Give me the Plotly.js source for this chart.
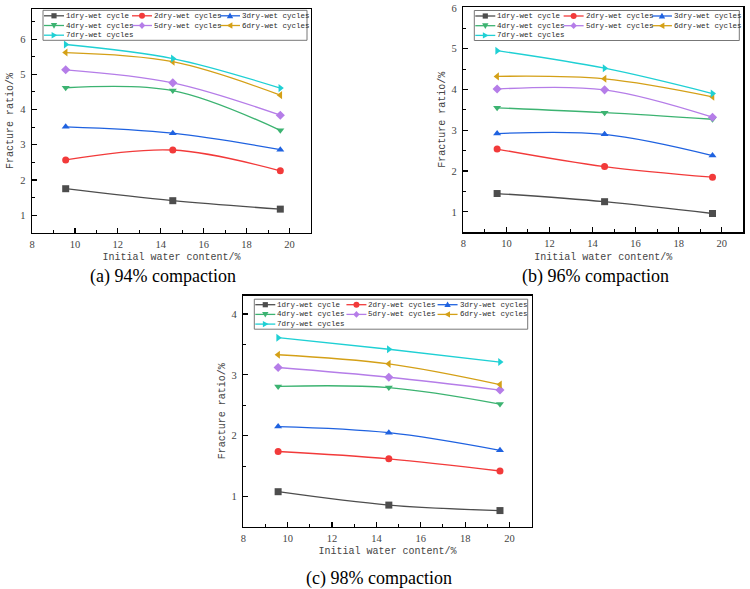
<!DOCTYPE html>
<html>
<head>
<meta charset="utf-8">
<script src="https://cdn.plot.ly/plotly-3.0.1.min.js"></script>
<style>html,body{margin:0;padding:0;background:#fff;}#chart{width:750px;height:589px;}</style>
</head>
<body>
<div id="chart"></div>
<script>
// ---------- data ----------
const waterContent = [9.57, 14.56, 19.57];
const seriesNames = ['1dry-wet cycle', '2dry-wet cycles', '3dry-wet cycles', '4dry-wet cycles',
                     '5dry-wet cycles', '6dry-wet cycles', '7dry-wet cycles'];
const ratio94 = [
  [1.75, 1.41, 1.17],
  [2.57, 2.85, 2.26],
  [3.51, 3.33, 2.86],
  [4.62, 4.54, 3.41],
  [5.13, 4.76, 3.84],
  [5.62, 5.36, 4.41],
  [5.85, 5.45, 4.61]
];
const ratio96 = [
  [1.45, 1.25, 0.96],
  [2.54, 2.11, 1.85],
  [2.92, 2.90, 2.38],
  [3.55, 3.43, 3.27],
  [4.01, 3.99, 3.32],
  [4.32, 4.26, 3.82],
  [4.95, 4.52, 3.90]
];
const ratio98 = [
  [1.08, 0.86, 0.77],
  [1.74, 1.62, 1.42],
  [2.15, 2.05, 1.76],
  [2.81, 2.79, 2.52],
  [3.12, 2.96, 2.75],
  [3.33, 3.18, 2.84],
  [3.61, 3.42, 3.21]
];
const captions = ['(a) 94% compaction', '(b) 96% compaction', '(c) 98% compaction'];
const xTitle = 'Initial water content/%';
const yTitle = 'Fracture ratio/%';

// ---------- styles ----------
const colors = ['#4d4d4d', '#f23a3a', '#1f62e0', '#3cb371', '#b57de8', '#d4a017', '#1fd0d4'];
const symbols = ['square', 'circle', 'triangle-up', 'triangle-down', 'diamond', 'triangle-left', 'triangle-right'];
const W = 750, H = 589;
// plot areas in pixels: [left, right, top, bottom]
const panels = [
  {data: ratio94, px: [32, 311, 9.3, 232.7], yr: [0.5, 6.85], ytv: [1,2,3,4,5,6], legTop: 1, cap: [163, 276.5]},
  {data: ratio96, px: [463.3, 743.3, 7, 232.3], yr: [0.5, 6.02], ytv: [1,2,3,4,5,6], legTop: 3.5, cap: [595, 276.5]},
  {data: ratio98, px: [243.3, 531.7, 295.7, 527], yr: [0.5, 4.3], ytv: [1,2,3,4], legTop: 3.5, cap: [379, 578]}
];
const tickFont = {family: 'Liberation Serif, Times New Roman, serif', size: 10.5, color: '#444'};
const monoFont = {family: 'Liberation Mono, DejaVu Sans Mono, monospace', size: 10, color: '#444'};
const legFont = {family: 'Liberation Mono, DejaVu Sans Mono, monospace', size: 7.5, color: '#2a2a2a'};

const traces = [];
const layout = {
  width: W, height: H,
  margin: {l: 0, r: 0, t: 0, b: 0},
  paper_bgcolor: '#fff', plot_bgcolor: '#fff',
  showlegend: false,
  shapes: [], annotations: []
};

function markerPath(sym, cx, cy) {
  let pts;
  switch (sym) {
    case 'square': pts = [[-2.6,-2.6],[2.6,-2.6],[2.6,2.6],[-2.6,2.6]]; break;
    case 'triangle-up': pts = [[-3.2,-2.4],[3.2,-2.4],[0,3.2]]; break;
    case 'triangle-down': pts = [[-3.2,2.4],[3.2,2.4],[0,-3.2]]; break;
    case 'diamond': pts = [[0,3.4],[3.2,0],[0,-3.4],[-3.2,0]]; break;
    case 'triangle-left': pts = [[-3.2,0],[2.4,3.2],[2.4,-3.2]]; break;
    case 'triangle-right': pts = [[3.2,0],[-2.4,3.2],[-2.4,-3.2]]; break;
  }
  return 'M' + pts.map(p => (cx + p[0]).toFixed(2) + ',' + (cy + p[1]).toFixed(2)).join('L') + 'Z';
}

panels.forEach((p, k) => {
  const sfx = k === 0 ? '' : String(k + 1);
  const xa = 'x' + sfx, ya = 'y' + sfx;
  const [L, R, T, B] = p.px;
  layout['xaxis' + sfx] = {
    domain: [L / W, R / W], anchor: ya, range: [8, 21],
    tickvals: [8, 10, 12, 14, 16, 18, 20], ticks: 'inside', ticklen: 5, tickwidth: 1.2, tickcolor: '#000',
    minor: {tickvals: [9, 11, 13, 15, 17, 19], ticks: 'inside', ticklen: 3, tickwidth: 1, tickcolor: '#000'},
    showline: true, linecolor: '#000', linewidth: 1.4, mirror: true,
    showgrid: false, zeroline: false, tickfont: tickFont, ticklabelstandoff: 1,
    title: {text: xTitle, font: monoFont, standoff: 4}
  };
  const minorY = [];
  for (let v = p.yr[0]; v <= p.yr[1]; v += 0.5) if (!p.ytv.includes(v)) minorY.push(v);
  layout['yaxis' + sfx] = {
    domain: [1 - B / H, 1 - T / H], anchor: xa, range: p.yr,
    tickvals: p.ytv, ticks: 'inside', ticklen: 5, tickwidth: 1.2, tickcolor: '#000',
    minor: {tickvals: minorY, ticks: 'inside', ticklen: 3, tickwidth: 1, tickcolor: '#000'},
    showline: true, linecolor: '#000', linewidth: 1.4, mirror: true,
    showgrid: false, zeroline: false, tickfont: tickFont, ticklabelstandoff: 3,
    title: {text: yTitle, font: monoFont, standoff: 4}
  };
  p.data.forEach((vals, i) => {
    traces.push({
      type: 'scatter', mode: 'lines+markers', xaxis: xa, yaxis: ya,
      x: waterContent, y: vals, name: seriesNames[i],
      line: {color: colors[i], width: 1.3, shape: 'spline', smoothing: 1},
      marker: {symbol: symbols[i], size: 7, color: colors[i]},
      cliponaxis: false
    });
  });

  // ----- custom legend (inside top-left, 3 columns) -----
  const xr = xa + ' domain', yr = ya + ' domain';
  const boxL = 11, boxR = (R - L) - 4, boxT = p.legTop, boxB = p.legTop + 30;
  layout.shapes.push({type: 'rect', xref: xr, yref: yr, xsizemode: 'pixel', ysizemode: 'pixel',
    xanchor: 0, yanchor: 1, x0: boxL, x1: boxR, y0: -boxT, y1: -boxB,
    line: {color: '#777', width: 1}, fillcolor: 'rgba(255,255,255,0)'});
  const colW = (boxR - boxL) / 3;
  seriesNames.forEach((nm, i) => {
    const col = i % 3, row = Math.floor(i / 3);
    const lx = boxL + 1 + col * colW;
    const ly = -(boxT + 5.5 + row * 9.7);
    layout.shapes.push({type: 'line', xref: xr, yref: yr, xsizemode: 'pixel', ysizemode: 'pixel',
      xanchor: 0, yanchor: 1, x0: lx, x1: lx + 20, y0: ly, y1: ly, line: {color: colors[i], width: 1.3}});
    const cx = lx + 10;
    if (symbols[i] === 'circle') {
      layout.shapes.push({type: 'circle', xref: xr, yref: yr, xsizemode: 'pixel', ysizemode: 'pixel',
        xanchor: 0, yanchor: 1, x0: cx - 3, x1: cx + 3, y0: ly - 3, y1: ly + 3,
        fillcolor: colors[i], line: {width: 0}});
    } else {
      layout.shapes.push({type: 'path', xref: xr, yref: yr, xsizemode: 'pixel', ysizemode: 'pixel',
        xanchor: 0, yanchor: 1, path: markerPath(symbols[i], cx, ly),
        fillcolor: colors[i], line: {width: 0}});
    }
    layout.annotations.push({xref: xr, yref: yr, x: 0, y: 1, xanchor: 'left', yanchor: 'middle',
      xshift: lx + 21, yshift: ly, text: nm, showarrow: false, font: legFont, borderpad: 0});
  });

  // caption
  layout.annotations.push({xref: 'paper', yref: 'paper', x: p.cap[0] / W, y: 1 - p.cap[1] / H,
    xanchor: 'center', yanchor: 'middle', text: captions[k], showarrow: false, borderpad: 0,
    font: {family: 'Liberation Serif, Times New Roman, serif', size: 18, color: '#000'}});
});

Plotly.newPlot('chart', traces, layout, {displayModeBar: false, staticPlot: true});
</script>
</body>
</html>
